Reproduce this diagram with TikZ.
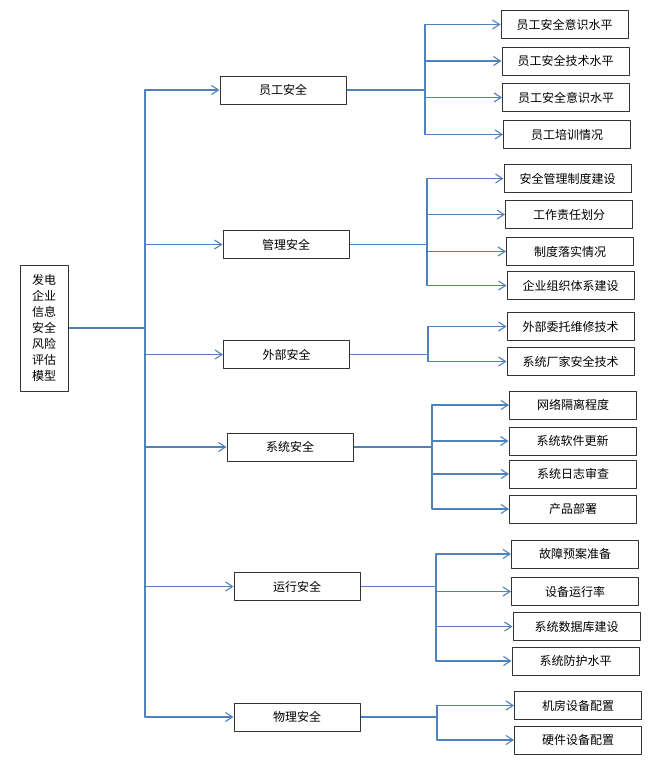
\documentclass[tikz,border=0pt]{standalone}
\usepackage{fontspec}
\newfontfamily\cjk{Noto Sans CJK SC}
\usetikzlibrary{arrows.meta,calc,positioning}
\definecolor{linkblue}{RGB}{79,129,189}
\tikzset{
  box/.style={draw=black!80,line width=1pt,fill=white,minimum width=126pt,minimum height=28pt,inner sep=0pt,font=\cjk\fontsize{12}{16}\selectfont},
  link/.style={draw=linkblue,line width=1.1pt},
  arr/.style={link,-{Straight Barb[length=7pt,width=9pt]}}
}
\begin{document}
\begin{tikzpicture}[x=1pt,y=-1pt,line join=round]
\useasboundingbox (0,0) rectangle (671,766);
% root
\node[box,minimum width=48pt,minimum height=126pt,align=center] (M) at (44,328) {发电\\企业\\信息\\安全\\风险\\评估\\模型};
% first level
\foreach \n/\x/\y/\t in {A/283/90/员工安全,B/286/244.5/管理安全,C/286.5/354.5/外部安全,D/290/447/系统安全,E/297/586.5/运行安全,F/297/717/物理安全}{\node[box] (\n) at (\x,\y) {\t};}
% second level
\foreach \n/\x/\y/\t in {A1/564.5/24.5/员工安全意识水平,A2/565.5/61/员工安全技术水平,A3/566/97.5/员工安全意识水平,A4/567/134.5/员工培训情况,
  B1/567.5/178.5/安全管理制度建设,B2/569/214.5/工作责任划分,B3/570/251.5/制度落实情况,B4/570.5/285.5/企业组织体系建设,
  C1/570.5/326.5/外部委托维修技术,C2/570.5/361.5/系统厂家安全技术,
  D1/573/405/网络隔离程度,D2/572.5/441/系统软件更新,D3/573/474/系统日志审查,D4/573/509/产品部署,
  E1/575/554/故障预案准备,E2/575/591.5/设备运行率,E3/576.5/626.5/系统数据库建设,E4/575.5/661/系统防护水平,
  F1/578/705.5/机房设备配置,F2/578/740/硬件设备配置}{\node[box,minimum width=127pt] (\n) at (\x,\y) {\t};}
% connectors
\coordinate (T) at (145,328);
\draw[link] (M.east) -- (T);
\foreach \n in {A,B,C,D,E,F}{\draw[arr] (T) |- (\n.west);}
\foreach \n/\x/\k in {A/425/4,B/427/4,C/428/2,D/432/4,E/436/4,F/437/2}{
  \coordinate (\n0) at (\n.east -| \x,0);
  \draw[link] (\n.east) -- (\n0);
  \foreach \j in {1,...,\k}{\draw[arr] (\n0) |- (\n\j.west);}
}
\end{tikzpicture}
\end{document}
